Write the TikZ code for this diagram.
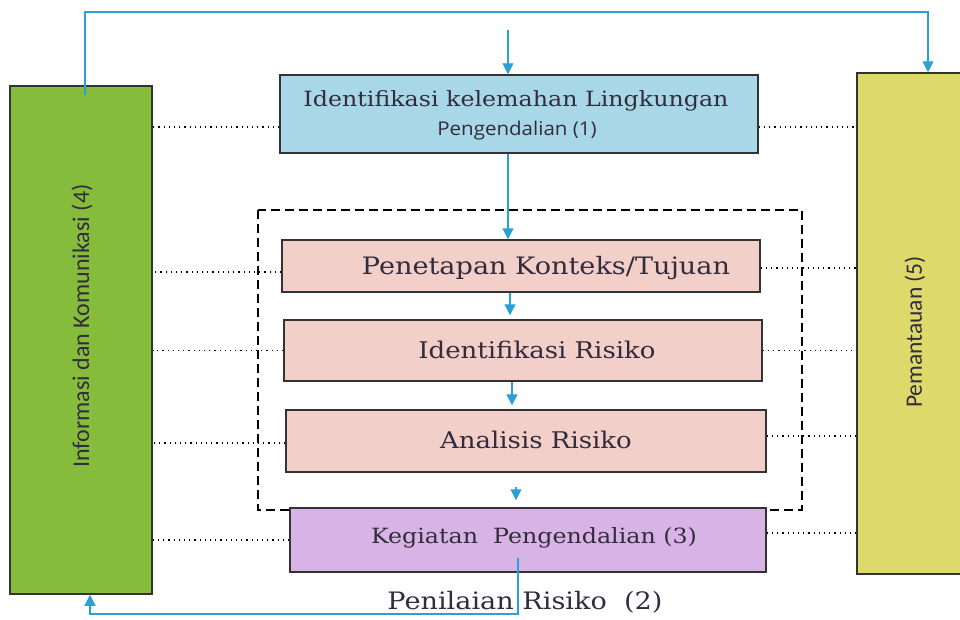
\documentclass[tikz,border=0pt]{standalone}
\usepackage{fontspec}
\setmainfont{DejaVu Serif}
\newfontfamily\carlito{Carlito}
\newfontfamily\sanslebar[FakeStretch=1.08]{Open Sans}
\newfontfamily\seriflebar[FakeStretch=1.13]{DejaVu Serif}
\usetikzlibrary{arrows.meta}
\definecolor{HijauInfo}{HTML}{86BC3C}
\definecolor{KuningPantau}{HTML}{DDD96A}
\definecolor{BiruMuda}{HTML}{A8D8E8}
\definecolor{MerahMuda}{HTML}{F2CFC8}
\definecolor{UnguMuda}{HTML}{D8B4E6}
\definecolor{BiruPanah}{HTML}{2AA0D4}
\definecolor{TeksGelap}{HTML}{332C3C}

\begin{document}
\begin{tikzpicture}
	[x=1pt, y=-1pt,
	every node/.style = {shape=rectangle, align=center, inner sep=0pt, text=TeksGelap},
	kotak/.style = {draw=black!80, line width=1.5pt},
	panah/.style = {draw=BiruPanah, line width=1.2pt, -{Triangle[width=11pt,length=11pt]}},
	titik/.style = {draw=black, line width=1.2pt, dash pattern=on 1.2pt off 4pt}]
	\useasboundingbox (0,0) rectangle (960,619);
	% kotak samping
	\node[kotak, fill=HijauInfo, minimum width=142pt, minimum height=508pt] (L) at (81,340) {};
	\node (tL) at (82,326) {\rotatebox{90}{\carlito\fontsize{24}{28}\selectfont Informasi dan Komunikasi (4)}};
	\node[kotak, fill=KuningPantau, minimum width=128pt, minimum height=501pt] (R) at (921,323.5) {};
	\node (tR) at (915,332) {\rotatebox{90}{\carlito\fontsize{23.5}{28}\selectfont Pemantauan (5)}};
	% kotak tengah
	\node[kotak, fill=BiruMuda, minimum width=478pt, minimum height=78pt] (A) at (519,114) {};
	\node (tA) at (516,101) {\seriflebar\fontsize{21}{26}\selectfont Identifikasi kelemahan Lingkungan};
	\node (tA2) at (517,131) {\sanslebar\fontsize{19}{22}\selectfont Pengendalian (1)};
	\draw[dashed, line width=1.5pt, dash pattern=on 9pt off 5pt] (258,210) rectangle (802,510);
	\node[kotak, fill=MerahMuda, minimum width=478pt, minimum height=52pt] (P1) at (521,266) {};
	\node (tP1) at (546,268) {\seriflebar\fontsize{24}{28}\selectfont Penetapan Konteks/Tujuan};
	\node[kotak, fill=MerahMuda, minimum width=478pt, minimum height=61pt] (P2) at (523,350.5) {};
	\node (tP2) at (537,350) {\seriflebar\fontsize{23}{28}\selectfont Identifikasi Risiko};
	\node[kotak, fill=MerahMuda, minimum width=480pt, minimum height=62pt] (P3) at (526,441) {};
	\node (tP3) at (536,440) {\seriflebar\fontsize{23}{28}\selectfont Analisis Risiko};
	\node[kotak, fill=UnguMuda, minimum width=476pt, minimum height=64pt] (K) at (528,540) {};
	\node (tK) at (534,538) {\seriflebar\fontsize{21}{26}\selectfont Kegiatan\ \ Pengendalian (3)};
	\node (N) at (525,602) {\seriflebar\fontsize{24}{28}\selectfont Penilaian\ Risiko\ \ (2)};
	% panah biru
	\coordinate (masuk) at (508,30);
	\coordinate (kiriAtas) at (85,12);
	\coordinate (kananAtas) at (928,12);
	\coordinate (bawah) at (518,614);
	\draw[panah] (masuk) -- (masuk |- A.north);
	\draw[panah] (A.south -| masuk) -- (P1.north -| masuk);
	\draw[panah, shorten >=4pt] ([xshift=-11pt]P1.south) -- ([xshift=-13pt]P2.north);
	\draw[panah, shorten >=4pt] ([xshift=-11pt]P2.south) -- ([xshift=-14pt]P3.north);
	\draw[panah, shorten >=7pt] ([xshift=-10pt,yshift=-14pt]P3.south) -- ([xshift=-12pt]K.north);
	\draw[panah] ([xshift=4pt]L.north |- 0,95) -- (kiriAtas) -- (kananAtas) -- (kananAtas |- R.north);
	\draw[panah] ([xshift=-10pt,yshift=-18pt]K.center) -- (bawah) -- (bawah -| 90,0) -- ([xshift=9pt]L.south);
	% garis titik-titik
	\draw[titik] ([yshift=-13pt]A.west) -- ([yshift=-13pt]A.west -| L.east);
	\draw[titik] ([yshift=-13pt]A.east) -- ([yshift=-13pt]A.east -| R.west);
	\draw[titik] ([yshift=-6pt]P1.west) -- ([yshift=-6pt]P1.west -| L.east);
	\draw[titik] ([yshift=-2pt]P1.east) -- ([yshift=-2pt]P1.east -| R.west);
	\draw[titik] (P2.west) -- (P2.west -| L.east);
	\draw[titik] (P2.east) -- (P2.east -| R.west);
	\draw[titik] ([yshift=-2pt]P3.west) -- ([yshift=-2pt]P3.west -| L.east);
	\draw[titik] ([yshift=5pt]P3.east) -- ([yshift=5pt]P3.east -| R.west);
	\draw[titik] (K.west) -- (K.west -| L.east);
	\draw[titik] ([yshift=7pt]K.east) -- ([yshift=7pt]K.east -| R.west);
\end{tikzpicture}
\end{document}
